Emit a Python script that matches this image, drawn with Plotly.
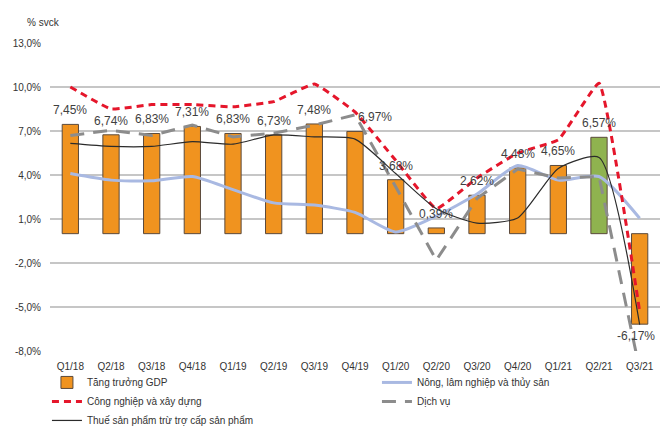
import plotly.graph_objects as go

quarters = ["Q1/18", "Q2/18", "Q3/18", "Q4/18", "Q1/19", "Q2/19", "Q3/19", "Q4/19",
            "Q1/20", "Q2/20", "Q3/20", "Q4/20", "Q1/21", "Q2/21", "Q3/21"]
gdp = [7.45, 6.74, 6.83, 7.31, 6.83, 6.73, 7.48, 6.97, 3.68, 0.39, 2.62, 4.48, 4.65, 6.57, -6.17]
nong_lam = [4.1, 3.65, 3.6, 3.9, 3.0, 2.1, 1.95, 1.45, 0.12, 1.2, 2.7, 4.65, 3.65, 3.9, 1.05]
cong_nghiep = [10.0, 8.5, 8.8, 8.8, 8.65, 9.0, 10.2, 8.3, 5.0, 1.7, 3.8, 5.5, 6.4, 10.25, -5.3]
dich_vu = [6.7, 7.05, 6.7, 7.4, 6.6, 6.85, 7.4, 8.1, 3.2, -1.8, 2.4, 4.4, 3.8, 3.9, -9.28]
thue_sp = [6.15, 5.95, 5.95, 6.27, 6.1, 6.73, 6.6, 6.45, 4.1, 1.7, 0.72, 1.07, 4.45, 5.2, -6.2]

y_ticks = [13, 10, 7, 4, 1, -2, -5, -8]
y_tick_text = ["13,0%", "10,0%", "7,0%", "4,0%", "1,0%", "-2,0%", "-5,0%", "-8,0%"]
highlight_quarter = "Q2/21"

FONT = "Liberation Sans, Arial, sans-serif"

bar_colors = ["#8fb34f" if q == highlight_quarter else "#f0931f" for q in quarters]

fig = go.Figure()
fig.add_trace(go.Bar(
    x=quarters, y=gdp, name="Tăng trưởng GDP",
    marker=dict(color=bar_colors, line=dict(color="#5b4a3c", width=1)),
    width=0.4,
))
fig.add_trace(go.Scatter(
    x=quarters, y=nong_lam, name="Nông, lâm nghiệp và thủy sản", mode="lines",
    line=dict(color="#a9b9e2", width=3, shape="spline", smoothing=0.6),
))
fig.add_trace(go.Scatter(
    x=quarters, y=cong_nghiep, name="Công nghiệp và xây dựng", mode="lines",
    line=dict(color="#e5162b", width=3, dash="7px,5px", shape="spline", smoothing=0.3),
))
fig.add_trace(go.Scatter(
    x=quarters, y=dich_vu, name="Dịch vụ", mode="lines",
    line=dict(color="#8c8c8c", width=3, dash="14px,9px"),
))
fig.add_trace(go.Scatter(
    x=quarters, y=thue_sp, name="Thuế sản phẩm trừ trợ cấp sản phẩm", mode="lines",
    line=dict(color="#2b2b2b", width=1.2, shape="spline", smoothing=0.6),
))

for q, v in zip(quarters, gdp):
    fig.add_annotation(
        x=q, y=v, text=f"{v:.2f}%".replace(".", ","), showarrow=False,
        yanchor="bottom" if v >= 0 else "top",
        yshift=5 if v >= 0 else -3,
        xshift=20 if q == "Q4/19" else (-4 if v < 0 else 0),
        font=dict(family=FONT, size=12, color="#3f3f3f"),
    )

fig.add_annotation(
    x=-25 / 610, y=1 + 21 / 308, xref="paper", yref="paper", text="% svck",
    showarrow=False, xanchor="left", yanchor="middle",
    font=dict(family=FONT, size=10, color="#333333"),
)

fig.update_layout(
    width=660, height=430,
    margin=dict(l=50, r=0, t=43, b=79, autoexpand=False),
    paper_bgcolor="white", plot_bgcolor="white",
    font=dict(family=FONT, size=10, color="#333333"),
    bargap=0.6,
    showlegend=True,
    legend=dict(
        orientation="h", x=-0.005, xanchor="left",
        y=-0.055, yanchor="top",
        entrywidth=285, entrywidthmode="pixels",
        bgcolor="rgba(0,0,0,0)",
        font=dict(family=FONT, size=10, color="#333333"),
        itemwidth=30, borderwidth=0,
    ),
    xaxis=dict(
        showgrid=False, showline=False, ticks="", zeroline=False, automargin=False,
        tickfont=dict(family=FONT, size=10, color="#333333"),
        range=[-0.5, 14.5], ticklabelstandoff=8,
    ),
    yaxis=dict(
        range=[-8, 13], tickvals=y_ticks, ticktext=y_tick_text, automargin=False,
        showgrid=True, gridcolor="#c6c6c6", gridwidth=1.5, zeroline=False,
        showline=False, ticks="", ticklabelstandoff=8,
        tickfont=dict(family=FONT, size=10, color="#333333"),
    ),
)

fig.write_html(
    "out.html",
    config={"displayModeBar": False},
    post_script="document.body.style.margin='0px';document.body.style.overflow='hidden';",
)
